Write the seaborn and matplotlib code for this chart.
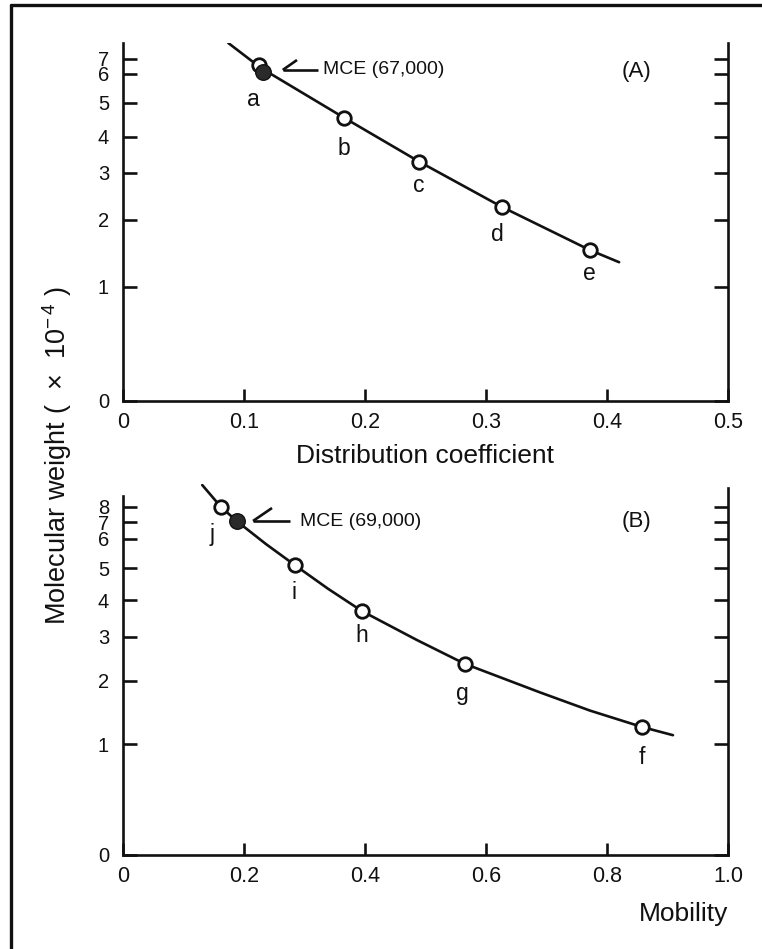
import numpy as np
import matplotlib
matplotlib.use("Agg")
import matplotlib.pyplot as plt
from matplotlib.lines import Line2D
import seaborn as sns

# ---------------- data ----------------
# Panel A: distribution coefficient vs molecular weight (x 10^-4)
a_labels = ["a", "b", "c", "d", "e"]
a_x = [0.112, 0.183, 0.245, 0.313, 0.386]
a_y = [6.6, 4.56, 3.31, 2.28, 1.55]
a_mce_x = [0.116]
a_mce_y = [6.13]
a_curve_x = [0.087, 0.114, 0.183, 0.245, 0.313, 0.386, 0.410]
a_curve_y = [8.05, 6.40, 4.56, 3.31, 2.28, 1.55, 1.37]

# Panel B: mobility vs molecular weight (x 10^-4)
b_labels = ["j", "i", "h", "g", "f"]
b_x = [0.162, 0.284, 0.395, 0.565, 0.858]
b_y = [8.0, 5.1, 3.70, 2.39, 1.27]
b_mce_x = [0.188]
b_mce_y = [7.06]
b_curve_x = [0.131, 0.162, 0.188, 0.236, 0.284, 0.339, 0.395, 0.486, 0.565,
             0.689, 0.772, 0.858, 0.909]
b_curve_y = [9.46, 8.0, 7.06, 5.83, 5.1, 4.35, 3.70, 2.93, 2.39,
             1.82, 1.53, 1.27, 1.14]

a_yticks = [0, 1, 2, 3, 4, 5, 6, 7]
b_yticks = [0, 1, 2, 3, 4, 5, 6, 7, 8]
a_xticks = [0, 0.1, 0.2, 0.3, 0.4, 0.5]
b_xticks = [0, 0.2, 0.4, 0.6, 0.8, 1.0]
a_xticklabels = ["0", "0.1", "0.2", "0.3", "0.4", "0.5"]
b_xticklabels = ["0", "0.2", "0.4", "0.6", "0.8", "1.0"]

# ---------------- axis scale of the original artwork ----------------
# (the printed molecular-weight axis is a hand-drawn, non-uniform scale)
a_scale_vals = [0, 1, 2, 3, 4, 5, 6, 7, 8.05]
a_scale_pos = [0, 114, 181, 228, 264, 298, 327, 342, 358]
b_scale_vals = [0, 1, 2, 3, 4, 5, 6, 7, 8, 9.53]
b_scale_pos = [0, 111, 174, 218, 255, 287, 316, 333, 348, 371]


def make_scale(vals, pos):
    vals = np.asarray(vals, float)
    pos = np.asarray(pos, float)
    s_lo = (pos[1] - pos[0]) / (vals[1] - vals[0])
    s_hi = (pos[-1] - pos[-2]) / (vals[-1] - vals[-2])

    def fwd(v):
        v = np.asarray(v, float)
        out = np.interp(v, vals, pos)
        out = np.where(v < vals[0], pos[0] + (v - vals[0]) * s_lo, out)
        out = np.where(v > vals[-1], pos[-1] + (v - vals[-1]) * s_hi, out)
        return out

    def inv(p):
        p = np.asarray(p, float)
        out = np.interp(p, pos, vals)
        out = np.where(p < pos[0], vals[0] + (p - pos[0]) / s_lo, out)
        out = np.where(p > pos[-1], vals[-1] + (p - pos[-1]) / s_hi, out)
        return out

    return fwd, inv


sns.set_style("ticks")
plt.rcParams["font.family"] = ["Liberation Sans", "DejaVu Sans"]
plt.rcParams["mathtext.fontset"] = "custom"
plt.rcParams["mathtext.rm"] = "Liberation Sans"

INK = "#111111"
W, H = 762, 949
fig = plt.figure(figsize=(W / 100, H / 100), dpi=100)
fig.patch.set_facecolor("white")

axA = fig.add_axes([123 / W, 548 / H, 605 / W, 358 / H])
axB = fig.add_axes([123 / W, 94 / H, 605 / W, 371 / H])


def style_axis(ax, vals, pos, ytop, yticks, xticks, xticklabels, xmax):
    ax.set_facecolor("white")
    fwd, inv = make_scale(vals, pos)
    ax.set_yscale("function", functions=(fwd, inv))
    ax.set_ylim(0, ytop)
    ax.set_xlim(0, xmax)
    ax.set_yticks(yticks)
    ax.set_yticklabels([str(t) for t in yticks])
    ax.yaxis.set_minor_locator(matplotlib.ticker.NullLocator())
    ax.set_xticks(xticks)
    ax.set_xticklabels(xticklabels)
    ax.spines["top"].set_visible(False)
    for s in ["left", "right", "bottom"]:
        ax.spines[s].set_visible(True)
        ax.spines[s].set_linewidth(1.9)
        ax.spines[s].set_color(INK)
    ax.tick_params(axis="y", which="major", direction="in", left=True, right=True,
                   labelright=False, length=10, width=1.9, color=INK,
                   labelsize=14.5, pad=10, labelcolor=INK)
    ax.tick_params(axis="x", which="major", direction="in", bottom=True, top=False,
                   length=9, width=1.9, color=INK, labelsize=15.5, pad=8,
                   labelcolor=INK)


def draw_panel(ax, cx, cy, px, py, mx, my, labels, offsets):
    sns.lineplot(x=cx, y=cy, ax=ax, sort=False, estimator=None, color=INK,
                 linewidth=1.9, zorder=2)
    sns.scatterplot(x=px, y=py, ax=ax, s=95, marker="o", facecolor="white",
                    edgecolor=INK, linewidth=2.0, zorder=3)
    sns.scatterplot(x=mx, y=my, ax=ax, s=125, marker="o", facecolor="#2a2a2a",
                    edgecolor=INK, linewidth=1.0, zorder=4)
    for lab, x, y, (dx, dy) in zip(labels, px, py, offsets):
        ax.annotate(lab, xy=(x, y), xytext=(dx, dy), textcoords="offset points",
                    ha="center", va="center", fontsize=16.5, color=INK)


# offsets (points) of the point letters
a_off = [(-3.5, -25), (0, -22), (-0.5, -17), (-3, -20), (-0.5, -17)]
b_off = [(-6.5, -19.5), (-0.5, -19.5), (0, -17.5), (-1.5, -21), (0, -22)]

style_axis(axA, a_scale_vals, a_scale_pos, 8.05, a_yticks, a_xticks, a_xticklabels, 0.5)
style_axis(axB, b_scale_vals, b_scale_pos, 9.53, b_yticks, b_xticks, b_xticklabels, 1.0)

draw_panel(axA, a_curve_x, a_curve_y, a_x, a_y, a_mce_x, a_mce_y, a_labels, a_off)
draw_panel(axB, b_curve_x, b_curve_y, b_x, b_y, b_mce_x, b_mce_y, b_labels, b_off)

for ax, top, xmax in ((axA, 8.05, 0.5), (axB, 9.53, 1.0)):
    ax.set_ylim(0, top)
    ax.set_xlim(0, xmax)
    ax.set_xlabel("")
    ax.set_ylabel("")
axB.spines["left"].set_bounds(0, 8.73)
axB.spines["right"].set_bounds(0, 9.27)


# MCE annotations with half-arrow heads
def mce_note(ax, text, tx, ty, x0, x1, yl, bx, by):
    ax.text(tx, ty, text, transform=ax.transAxes, ha="left", va="center",
            fontsize=14, color=INK)
    ax.add_line(Line2D([x0, x1], [yl, yl], transform=ax.transAxes, color=INK,
                       lw=1.9, solid_capstyle="butt"))
    ax.add_line(Line2D([x1, bx], [yl, by], transform=ax.transAxes, color=INK,
                       lw=1.9, solid_capstyle="butt"))


mce_note(axA, "MCE (67,000)", 0.3306, 0.9246, 0.322, 0.264, 0.9246, 0.2876, 0.9525)
mce_note(axB, "MCE (69,000)", 0.2926, 0.8976, 0.2760, 0.2149, 0.9003, 0.2463, 0.9353)

axA.text(0.848, 0.919, "(A)", transform=axA.transAxes, ha="center", va="center",
         fontsize=16, color=INK)
axB.text(0.848, 0.900, "(B)", transform=axB.transAxes, ha="center", va="center",
         fontsize=16, color=INK)

axA.set_xlabel("Distribution coefficient", fontsize=19, color=INK, labelpad=8)
axB.set_xlabel("Mobility", fontsize=19, color=INK, labelpad=11, loc="right")

fig.text(57 / W, 1 - 456 / H, "Molecular weight (  \u00d7  10$^{-\\,4}$ )", rotation=90,
         ha="center", va="center", fontsize=19.5, color=INK)

# frame lines of the scanned figure (left and top)
fig.add_artist(Line2D([11 / W, 11 / W], [0, 1 - 5 / H], transform=fig.transFigure,
                      color=INK, lw=2.4))
fig.add_artist(Line2D([11 / W, 1], [1 - 5 / H, 1 - 5 / H], transform=fig.transFigure,
                      color=INK, lw=2.4))

fig.savefig("out.png", dpi=100, facecolor="white")
